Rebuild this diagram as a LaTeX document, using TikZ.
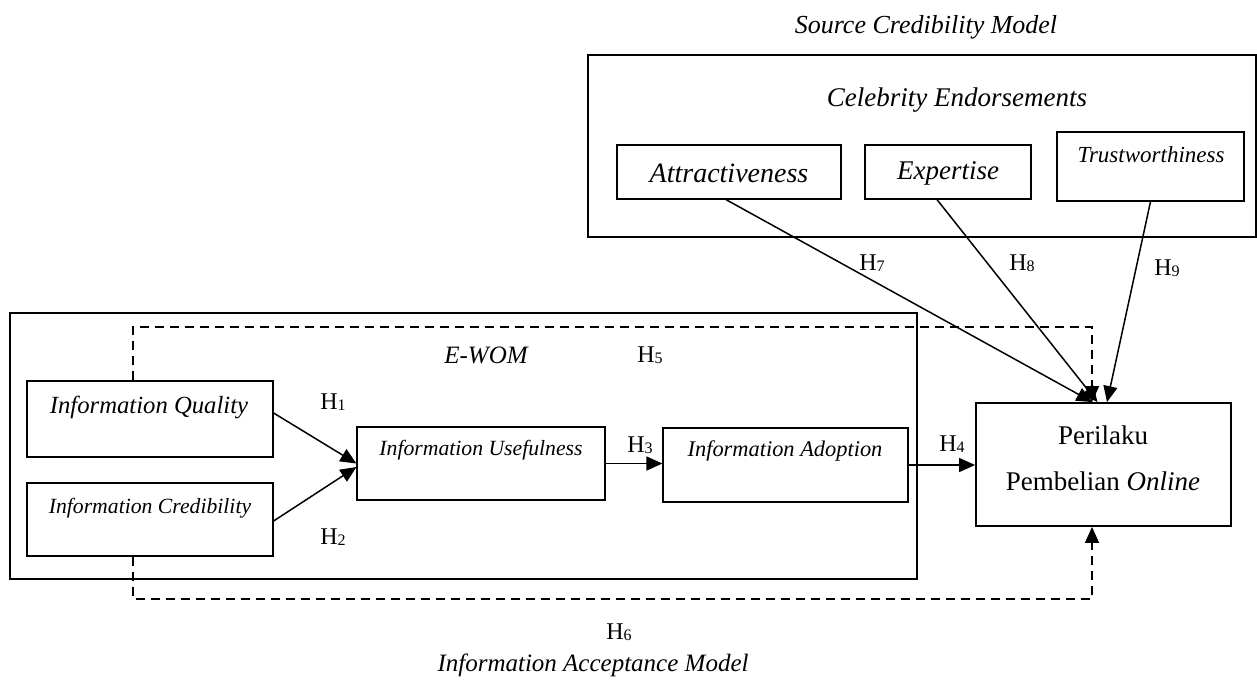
\documentclass[tikz,border=0pt]{standalone}
\usepackage{fontspec}
\setmainfont{Liberation Serif}
\usetikzlibrary{arrows.meta}
\newcommand\myfs[1]{\fontsize{#1}{#1}\selectfont}
\newcommand\hyp[1]{H\raisebox{-1.5pt}{\myfs{16}#1}}
\tikzset{
  box/.style={draw, line width=1.2pt, minimum width=#1, inner sep=0pt},
  bigbox/.style={draw, line width=2pt, inner sep=0pt},
  txt/.style={inner sep=0pt, font=\itshape},
  hlab/.style={inner sep=0pt, font=\myfs{24}},
  conn/.style={line width=1.5pt, -{Triangle[length=16pt,width=14pt]}},
  dconn/.style={line width=1.5pt, dash pattern=on 9pt off 6pt, -{Triangle[length=16pt,width=14pt]}}
}
\begin{document}
\begin{tikzpicture}[x=1pt,y=-1pt]
\useasboundingbox (0,0) rectangle (1257,697);
% Source credibility block
\node[bigbox, minimum width=668pt, minimum height=182pt] (src) at (922,146) {};
\node[txt, font=\itshape\myfs{26}] (srcT) at (926,27) {Source Credibility Model};
\node[txt, font=\itshape\myfs{27}] (celT) at (957,100) {Celebrity Endorsements};
\node[box=224pt, minimum height=54pt] (attr) at (729,172) {};
\node[txt, font=\itshape\myfs{28}] (attrT) at (729,173) {Attractiveness};
\node[box=166pt, minimum height=54pt] (exp) at (948,172) {};
\node[txt, font=\itshape\myfs{27}] (expT) at (948,173) {Expertise};
\node[box=187pt, minimum height=69pt] (trust) at (1150.5,166.5) {};
\node[txt, font=\itshape\myfs{23}] (trustT) at (1151,155) {Trustworthiness};
% E-WOM block
\node[bigbox, minimum width=907pt, minimum height=266pt] (ewom) at (463.5,446) {};
\node[txt, font=\itshape\myfs{25}] (ewomT) at (486,355) {E-WOM};
\node[box=246pt, minimum height=76pt] (iq) at (150,419) {};
\node[txt, font=\itshape\myfs{24.7}] (iqT) at (149,407) {Information Quality};
\node[box=246pt, minimum height=73pt] (ic) at (150,519.5) {};
\node[txt, font=\itshape\myfs{21.7}] (icT) at (150,508) {Information Credibility};
\node[box=248pt, minimum height=73pt] (iu) at (481,463.5) {};
\node[txt, font=\itshape\myfs{21.7}] (iuT) at (481,450) {Information Usefulness};
\node[box=245pt, minimum height=74pt] (ia) at (785.5,465) {};
\node[txt, font=\itshape\myfs{22.4}] (iaT) at (785,451) {Information Adoption};
% Outcome
\node[draw, line width=1.8pt, inner sep=0pt, minimum width=255pt, minimum height=123pt] (pb) at (1103.5,464.5) {};
\node[inner sep=0pt, font=\myfs{27}] (pbT1) at (1103,435) {Perilaku};
\node[inner sep=0pt, font=\myfs{27}] (pbT2) at (1103,481) {Pembelian \textit{Online}};
% bottom title
\node[txt, font=\itshape\myfs{25}] (iamT) at (593,665) {Information Acceptance Model};
% coordinates for dashed paths
\coordinate (c5) at (1092,327);
\coordinate (c6) at (1092,599);
% connectors
\draw[conn] ([yshift=6pt]iq.east) -- (iu.west);
\draw[conn] ([yshift=-1.5pt]ic.east) -- ([yshift=-3.5pt]iu.west);
\draw[conn] (iu.east) -- (ia.west |- iu.east);
\draw[conn] (ia.east) -- (pb.west |- ia.east);
\draw[conn] ([xshift=-3pt]attr.south) -- ([xshift=-11pt]pb.north);
\draw[conn] ([xshift=-11pt]exp.south) -- ([xshift=-6pt]pb.north);
\draw[conn] (trust.south) -- ([xshift=3.5pt]pb.north);
\draw[dconn] ([xshift=-17pt]iq.north) |- (c5) -- (pb.north -| c5);
\draw[dconn] ([xshift=-17pt]ic.south) |- (c6) -- (pb.south -| c6);
% hypothesis labels
\node[hlab] (h1) at (333,402) {\hyp{1}};
\node[hlab] (h2) at (333,537) {\hyp{2}};
\node[hlab] (h3) at (640,445) {\hyp{3}};
\node[hlab] (h4) at (952,444) {\hyp{4}};
\node[hlab] (h5) at (650,355) {\hyp{5}};
\node[hlab] (h6) at (619,632) {\hyp{6}};
\node[hlab] (h7) at (872,263) {\hyp{7}};
\node[hlab] (h8) at (1022,263) {\hyp{8}};
\node[hlab] (h9) at (1167,268) {\hyp{9}};
\end{tikzpicture}
\end{document}
